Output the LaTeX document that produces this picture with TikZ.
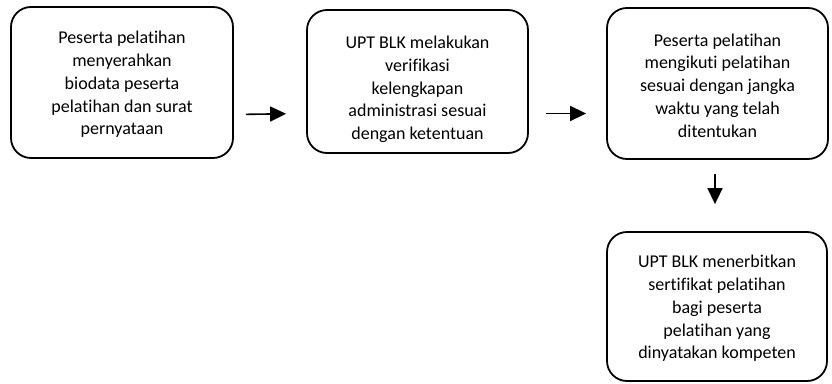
\documentclass[tikz,border=0pt]{standalone}
\usepackage{fontspec}
\setmainfont{Carlito}[Ligatures={NoCommon}]
\usetikzlibrary{arrows.meta}
\begin{document}
\begin{tikzpicture}[x=1pt,y=-1pt,
  box/.style={draw=black, line width=1.8pt, rounded corners=20pt, inner sep=0pt},
  txt/.style={align=center, font=\fontsize{18}{22.7}\selectfont, inner sep=0pt},
  arr/.style={line width=1.6pt, -{Triangle[length=16pt,width=15pt]}}]
\useasboundingbox (0,0) rectangle (832,383);
\node[box, minimum width=222pt, minimum height=151pt] (b1) at (122,82.5) {};
\node[box, minimum width=221pt, minimum height=143pt] (b2) at (417.5,81.5) {};
\node[box, minimum width=221pt, minimum height=151pt] (b3) at (717.5,83.5) {};
\node[box, minimum width=220pt, minimum height=149pt] (b4) at (717,306.5) {};
\node[txt] (t1) at ([yshift=-2pt]b1.center)
  {Peserta pelatihan\\menyerahkan\\biodata peserta\\pelatihan dan surat\\pernyataan};
\node[txt] (t2) at ([yshift=-8pt]b2.center)
  {UPT BLK melakukan\\verifikasi\\kelengkapan\\administrasi sesuai\\dengan ketentuan};
\node[txt] (t3) at ([yshift=-2pt]b3.center)
  {Peserta pelatihan\\mengikuti pelatihan\\sesuai dengan jangka\\waktu yang telah\\ditentukan};
\node[txt] (t4) at ([yshift=-2pt]b4.center)
  {UPT BLK menerbitkan\\sertifikat pelatihan\\bagi peserta\\pelatihan yang\\dinyatakan kompeten};
\draw[arr, shorten <=12pt, shorten >=20pt] ([yshift=-32pt]b1.east) -- ([yshift=-32pt]b2.west);
\draw[arr, shorten <=17pt, shorten >=20pt] ([yshift=-32pt]b2.east) -- ([yshift=-30pt]b3.west);
\draw[arr, shorten <=14pt, shorten >=27pt] ([xshift=-2.5pt]b3.south) -- ([xshift=-2pt]b4.north);
\end{tikzpicture}
\end{document}
